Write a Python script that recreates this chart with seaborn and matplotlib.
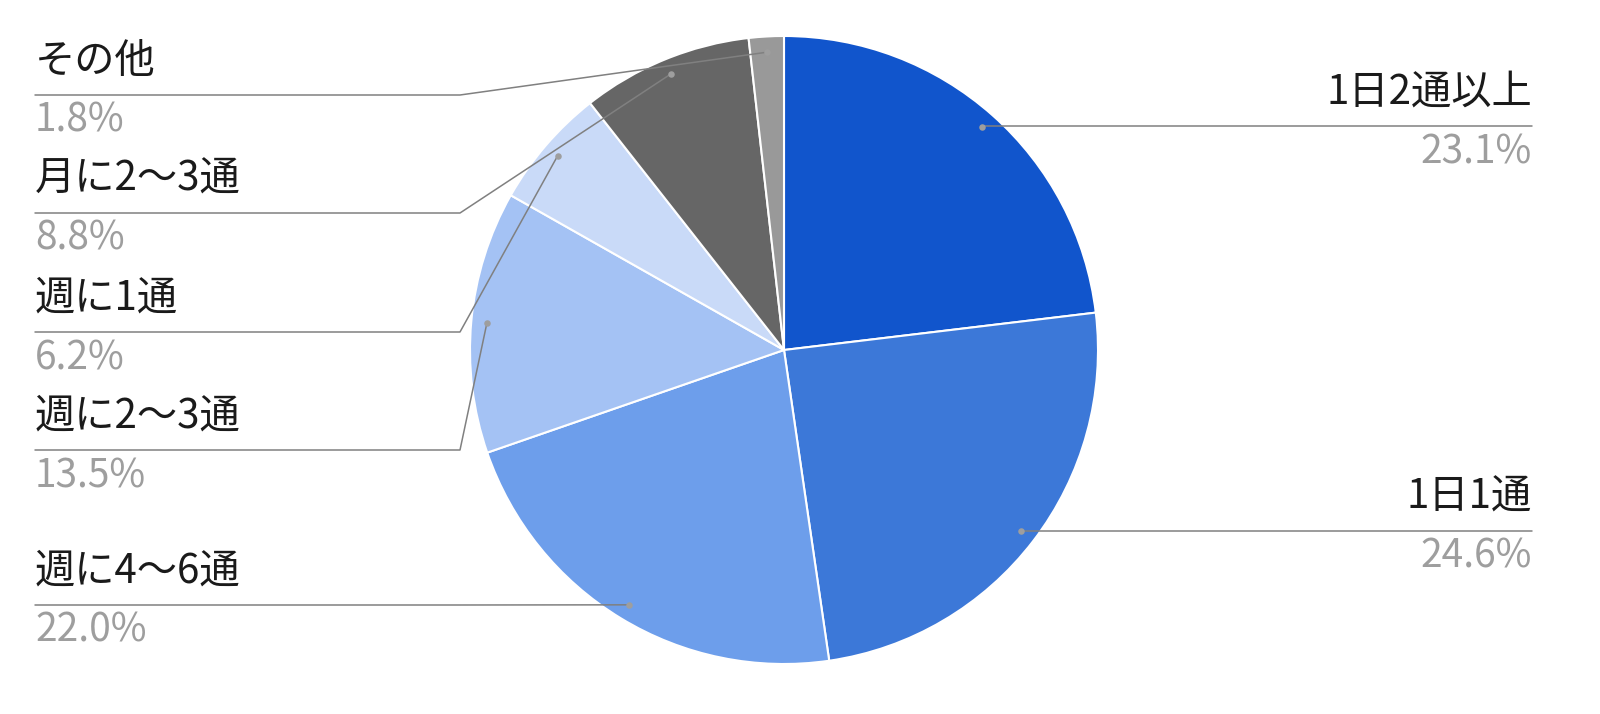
import numpy as np
import matplotlib
matplotlib.use("Agg")
import matplotlib.pyplot as plt
import seaborn as sns

# データ
labels = ["1日2通以上", "1日1通", "週に4〜6通", "週に2〜3通", "週に1通", "月に2〜3通", "その他"]
values = [23.1, 24.6, 22.0, 13.5, 6.2, 8.8, 1.8]
colors = ["#1155cc", "#3c78d8", "#6d9eeb", "#a4c2f4", "#c9daf8", "#666666", "#999999"]

# ラベルの配置 (画素単位、上から)
label_side = ["right", "right", "left", "left", "left", "left", "left"]
label_line_y = [126, 531, 605, 450, 332, 213, 95]

sns.set_theme(style="white")
plt.rcParams["font.family"] = ["Noto Sans CJK JP", "DejaVu Sans"]

W, H = 1600, 714
fig = plt.figure(figsize=(16, 7.14), dpi=100)
ax = fig.add_axes([0, 0, 1, 1])

cx, cy, r = 784, H - 350, 314
wedges, _ = ax.pie(values, colors=sns.color_palette(colors), startangle=90,
                   counterclock=False, center=(cx, cy), radius=r,
                   wedgeprops=dict(edgecolor="white", linewidth=1.5), frame=True)
ax.set_xlim(0, W)
ax.set_ylim(0, H)
ax.axis("off")

line_color = "#808080"
for w, lab, val, side, ly in zip(wedges, labels, values, label_side, label_line_y):
    mid = np.deg2rad((w.theta1 + w.theta2) / 2)
    dx = cx + 0.95 * r * np.cos(mid)
    dy = cy + 0.95 * r * np.sin(mid)
    y = H - ly
    if side == "right":
        ax.plot([dx, 1532], [y, y], color=line_color, lw=1.1)
        tx, ha = 1532, "right"
    else:
        ax.plot([35, 460, dx], [y, y, dy], color=line_color, lw=1.1)
        tx, ha = 35, "left"
    ax.scatter([dx], [dy], s=22, color="#9e9e9e", zorder=5, linewidths=0)
    ax.text(tx, y + 22, lab, ha=ha, va="baseline", fontsize=29, color="#1a1a1a")
    ax.text(tx, y - 6, f"{val:.1f}%", ha=ha, va="top", fontsize=28, color="#9e9e9e")

fig.savefig("out.png", dpi=100, facecolor="white")
plt.close(fig)
